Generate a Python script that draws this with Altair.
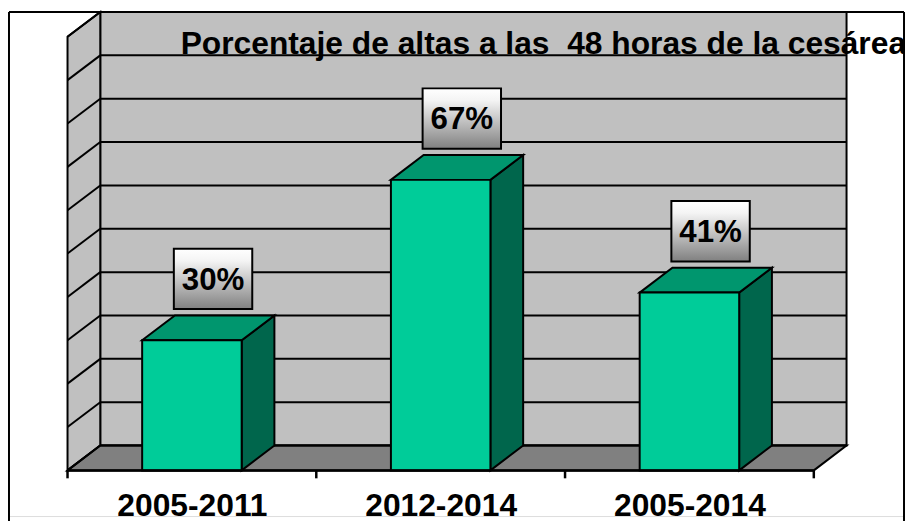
import json
import altair as alt
import pandas as pd

# ---- data ----
categories = ["2005-2011", "2012-2014", "2005-2014"]
values = [30, 67, 41]
value_labels = ["30%", "67%", "41%"]
grid_values = [0, 10, 20, 30, 40, 50, 60, 70, 80, 90, 100]
category_bounds = [-0.5, 0.5, 1.5, 2.5]
title_text = "Porcentaje de altas a las \u00a048 horas de la cesárea"

# ---- 3D geometry / styling constants (in data units) ----
DX = 0.1316      # depth offset along x (category units)
DY = 5.72        # depth offset along y (percent units)
HALF = 0.2       # half bar width
X0, X1 = -0.5, 2.5
XDOM = [-0.7353, 2.8626]
YDOM = [-10.53, 105.72]
W, H = 902, 508
FONT = "Liberation Sans"
WALL = "#C0C0C0"
FLOOR = "#808080"
FRONT = "#00CC99"
TOP = "#00966E"
SIDE = "#00664C"
LX, BW, LY0, LH = 0.085, 0.1576, 7.2, 13.9
TICK = -1.83

xscale = alt.Scale(domain=XDOM, nice=False, zero=False)
yscale = alt.Scale(domain=YDOM, nice=False, zero=False)
label_expr = json.dumps(categories) + "[datum.value]"
xaxis = alt.Axis(values=[0, 1, 2], labelExpr=label_expr, domain=False, ticks=False,
                 grid=False, tickSize=0, labelPadding=-1, labelBaseline="alphabetic",
                 labelFont=FONT, labelFontSize=32, labelFontWeight="bold",
                 labelColor="black", labelOverlap=False, labelFlush=False, title=None)


def X(f="x"):
    return alt.X(f"{f}:Q", scale=xscale, axis=xaxis)


def Y(f="y"):
    return alt.Y(f"{f}:Q", scale=yscale, axis=None, stack=False)


# back wall
back = pd.DataFrame([{"x": X0 + DX, "x2": X1 + DX, "y": DY, "y2": 100 + DY}])
back_l = alt.Chart(back).mark_rect(fill=WALL, stroke="black", strokeWidth=2).encode(
    x=X(), x2="x2:Q", y=Y(), y2="y2:Q")

# left wall
left = pd.DataFrame([{"x": X0, "y": 0, "y2": 100}, {"x": X0 + DX, "y": DY, "y2": 100 + DY}])
left_l = alt.Chart(left).mark_area(fill=WALL, stroke="black", strokeWidth=2).encode(
    x=X(), y=Y(), y2="y2:Q")

# floor
floor = pd.DataFrame([
    {"x": X0, "y": 0, "y2": 0},
    {"x": X0 + DX, "y": 0, "y2": DY},
    {"x": X1, "y": 0, "y2": DY},
    {"x": X1 + DX, "y": DY, "y2": DY},
])
floor_l = alt.Chart(floor).mark_area(fill=FLOOR, stroke="black", strokeWidth=2).encode(
    x=X(), y=Y(), y2="y2:Q")

# gridlines (back wall + left wall)
grid_rows = []
for v in grid_values:
    grid_rows.append({"x": X0 + DX, "x2": X1 + DX, "y": v + DY, "y2": v + DY})
    grid_rows.append({"x": X0, "x2": X0 + DX, "y": v, "y2": v + DY})
grid_l = alt.Chart(pd.DataFrame(grid_rows)).mark_rule(color="black", strokeWidth=2).encode(
    x=X(), x2="x2:Q", y=Y(), y2="y2:Q")

# bars
side_rows, top_rows, front_rows, box_rows = [], [], [], []
for i, (c, v, lab) in enumerate(zip(categories, values, value_labels)):
    xl, xr = i - HALF, i + HALF
    side_rows += [{"id": c, "x": xr, "y": 0, "y2": v},
                  {"id": c, "x": xr + DX, "y": DY, "y2": v + DY}]
    top_rows += [{"id": c, "x": xl, "y": v, "y2": v},
                 {"id": c, "x": xl + DX, "y": v, "y2": v + DY},
                 {"id": c, "x": xr, "y": v, "y2": v + DY},
                 {"id": c, "x": xr + DX, "y": v + DY, "y2": v + DY}]
    front_rows.append({"id": c, "x": xl, "x2": xr, "y": 0, "y2": v})
    box_rows.append({"id": c, "label": lab, "x": i + LX - BW, "x2": i + LX + BW,
                     "xc": i + LX, "y": v + LY0, "y2": v + LY0 + LH,
                     "yc": v + LY0 + LH / 2})

side_l = alt.Chart(pd.DataFrame(side_rows)).mark_area(
    fill=SIDE, stroke="black", strokeWidth=2).encode(x=X(), y=Y(), y2="y2:Q", detail="id:N")
top_l = alt.Chart(pd.DataFrame(top_rows)).mark_area(
    fill=TOP, stroke="black", strokeWidth=2).encode(x=X(), y=Y(), y2="y2:Q", detail="id:N")
front_l = alt.Chart(pd.DataFrame(front_rows)).mark_rect(
    fill=FRONT, stroke="black", strokeWidth=2).encode(x=X(), x2="x2:Q", y=Y(), y2="y2:Q")

# axis line and category ticks on the front edge
axis_rows = [{"x": X0, "x2": X1, "y": 0, "y2": 0}]
for b in category_bounds:
    axis_rows.append({"x": b, "x2": b, "y": 0, "y2": TICK})
axis_l = alt.Chart(pd.DataFrame(axis_rows)).mark_rule(color="black", strokeWidth=2.5).encode(
    x=X(), x2="x2:Q", y=Y(), y2="y2:Q")

# value label boxes
grad = alt.LinearGradient(gradient="linear",
                          stops=[alt.GradientStop(color="#FFFFFF", offset=0),
                                 alt.GradientStop(color="#F4F4F4", offset=0.2),
                                 alt.GradientStop(color="#808080", offset=1)],
                          x1=0, x2=0, y1=0, y2=1)
boxes = pd.DataFrame(box_rows)
box_l = alt.Chart(boxes).mark_rect(fill=grad, stroke="black", strokeWidth=2).encode(
    x=X(), x2="x2:Q", y=Y(), y2="y2:Q")
text_l = alt.Chart(boxes).mark_text(font=FONT, fontSize=31.5, fontWeight="bold", color="black",
                                    align="center", baseline="middle", dy=2).encode(
    x=X("xc"), y=Y("yc"), text="label:N")

# chart title, drawn inside the plot
title_l = alt.Chart(pd.DataFrame([{"t": title_text}])).mark_text(
    font=FONT, fontSize=32, fontWeight="bold", color="black",
    align="left", baseline="alphabetic").encode(
    x=alt.value(173), y=alt.value(42), text="t:N")

# outer frame (left, top, right)
frame = alt.Chart(pd.DataFrame([{"k": 0}])).mark_rule(color="black", strokeWidth=2)
frame_l = frame.encode(x=alt.value(0), y=alt.value(0), y2=alt.value(H + 5))
frame_t = frame.encode(x=alt.value(0), x2=alt.value(W), y=alt.value(0))
frame_r = frame.encode(x=alt.value(W), y=alt.value(0), y2=alt.value(H + 5))

chart = alt.layer(
    back_l, left_l, floor_l, grid_l, side_l, top_l, front_l, axis_l, box_l, text_l,
    title_l, frame_l, frame_t, frame_r,
).properties(
    width=W, height=H,
    autosize=alt.AutoSizeParams(type="none"),
    padding={"left": 1, "top": 2, "right": 1, "bottom": 5},
).configure_view(stroke=None).configure(background="white")

chart.save("out.html", embed_options={"renderer": "svg", "actions": False})
